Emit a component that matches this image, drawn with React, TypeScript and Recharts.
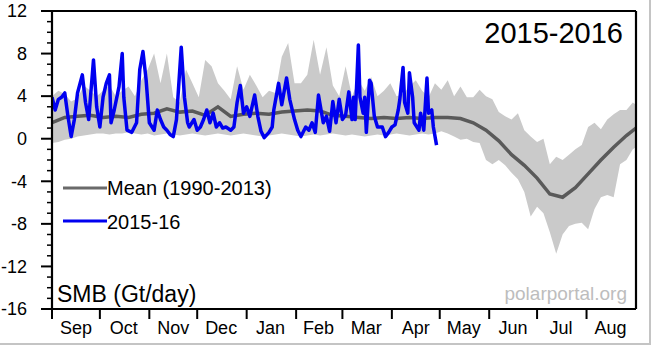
import React from 'react';
import { ComposedChart, Area, Line, XAxis, YAxis } from 'recharts';

const monthLabels = ['Sep', 'Oct', 'Nov', 'Dec', 'Jan', 'Feb', 'Mar', 'Apr', 'May', 'Jun', 'Jul', 'Aug'];
const monthStarts = [0, 30, 61, 91, 122, 153, 182, 213, 243, 274, 304, 335, 366];
const monthMids = [15, 45, 76, 106, 137, 167, 197, 228, 258, 289, 319, 350];
const yMajorTicks = [-16, -12, -8, -4, 0, 4, 8, 12];
const yMinorTicks = [-16, -15, -14, -13, -12, -11, -10, -9, -8, -7, -6, -5, -4, -3, -2, -1, 0, 1, 2, 3, 4, 5, 6, 7, 8, 9, 10, 11, 12];

const climDays = [0, 4, 8, 12, 16, 20, 24, 28, 32, 36, 40, 44, 48, 52, 56, 60, 64, 68, 72, 76, 80, 84, 88, 92, 96, 100, 104, 108, 112, 116, 120, 124, 128, 132, 136, 140, 144, 148, 152, 156, 160, 164, 168, 172, 176, 180, 184, 188, 192, 196, 200, 204, 208, 212, 216, 220, 224, 228, 232, 236, 240, 244, 248, 252, 256, 260, 264, 268, 272, 276, 280, 284, 288, 292, 296, 300, 304, 308, 312, 316, 320, 324, 328, 332, 336, 340, 344, 348, 352, 356, 360, 364, 366];
const bandHigh = [4.0, 4.5, 4.2, 3.5, 3.8, 5.0, 4.5, 4.0, 4.5, 5.0, 4.0, 4.5, 4.9, 4.0, 5.5, 6.5, 8.0, 5.2, 8.0, 3.9, 3.4, 6.5, 5.2, 3.9, 7.4, 6.8, 5.2, 4.5, 3.7, 6.8, 4.6, 6.0, 5.0, 3.9, 4.5, 4.3, 7.7, 9.0, 5.2, 5.2, 6.0, 9.3, 6.0, 8.6, 5.0, 4.0, 6.8, 4.0, 5.5, 4.5, 5.8, 4.0, 4.5, 5.2, 4.0, 4.2, 4.9, 5.5, 4.5, 3.9, 5.2, 4.6, 5.5, 4.0, 4.9, 3.9, 3.9, 4.6, 4.0, 3.7, 2.5, 2.1, 1.8, 2.4, 0.8, 0.2, -0.3, 0.0, -2.4, -1.7, -2.0, -1.5, -1.0, -0.6, 1.1, 1.5, 0.9, 1.8, 2.3, 2.7, 2.7, 3.4, 3.2];
const bandLow = [-0.4, -0.3, -0.1, 0.0, 0.2, 0.3, 0.4, 0.5, 0.5, 0.4, 0.5, 0.5, 0.6, 0.5, 0.4, 0.5, 0.3, 0.4, 0.5, 0.4, 0.3, 0.4, 0.5, 0.4, 0.3, 0.4, 0.5, 0.4, 0.3, 0.4, 0.5, 0.4, 0.3, 0.2, 0.3, 0.4, 0.5, 0.4, 0.3, 0.2, 0.3, 0.4, 0.3, 0.4, 0.5, 0.4, 0.3, 0.4, 0.3, 0.2, 0.3, 0.4, 0.3, 0.4, 0.5, 0.4, 0.3, 0.4, 0.5, 0.4, 0.5, 0.7, 0.5, 0.2, -0.1, 0.0, -0.3, -0.4, -2.0, -2.4, -2.0, -2.5, -3.2, -3.8, -5.0, -7.3, -6.4, -7.0, -8.8, -10.8, -9.0, -8.2, -8.0, -7.9, -8.5, -6.6, -5.5, -5.3, -5.5, -2.4, -2.0, -1.0, -0.8];

const meanDays = [0, 8, 16, 24, 32, 40, 48, 56, 64, 72, 80, 88, 96, 104, 112, 120, 128, 136, 144, 152, 160, 168, 176, 184, 192, 200, 208, 216, 224, 232, 240, 248, 256, 264, 272, 280, 288, 296, 304, 312, 320, 328, 336, 344, 352, 360, 366];
const meanSmb = [1.5, 2.0, 2.1, 2.2, 2.0, 2.1, 2.0, 2.3, 2.4, 2.8, 2.5, 2.6, 2.2, 3.0, 2.1, 2.3, 2.4, 2.3, 2.5, 2.6, 2.7, 2.6, 2.2, 2.1, 2.0, 1.9, 2.0, 1.9, 2.0, 1.9, 2.0, 2.0, 1.9, 1.5, 0.8, -0.2, -1.5, -2.5, -3.7, -5.2, -5.5, -4.6, -3.3, -2.0, -0.8, 0.3, 1.0];

const obsDays = [0, 2, 4, 6, 8, 10, 12, 14, 16, 19, 21, 23, 26, 28, 30, 32, 34, 36, 37, 39, 42, 44, 45, 47, 50, 53, 55, 57, 59, 61, 64, 66, 68, 70, 72, 74, 76, 78, 81, 83, 85, 86, 89, 91, 93, 95, 97, 99, 101, 103, 105, 107, 109, 112, 114, 116, 118, 120, 122, 124, 127, 129, 131, 133, 136, 138, 139, 142, 144, 147, 149, 152, 154, 156, 159, 161, 163, 165, 167, 170, 172, 174, 176, 178, 180, 182, 184, 186, 188, 189, 190, 192, 193, 195, 196, 197, 199, 200, 202, 204, 207, 209, 211, 213, 215, 217, 218, 220, 221, 223, 224, 226, 227, 230, 231, 233, 235, 236, 238, 239, 241];
const obsSmb = [3.9, 2.7, 3.7, 3.9, 4.3, 2.1, 0.2, 1.8, 4.3, 6.0, 3.4, 1.8, 7.4, 3.0, 1.1, 3.9, 5.2, 6.0, 1.5, 2.7, 4.9, 8.0, 3.9, 0.8, 0.6, 1.5, 6.5, 8.2, 5.5, 1.5, 0.8, 2.7, 1.8, 1.1, 0.8, 0.4, 0.2, 1.8, 8.6, 3.9, 1.5, 1.1, 1.8, 0.8, 1.1, 1.8, 2.7, 1.5, 2.4, 1.1, 1.5, 1.0, 1.1, 0.8, 1.1, 3.4, 5.0, 2.4, 3.0, 2.1, 4.1, 2.1, 0.7, 0.1, 0.6, 1.1, 2.7, 5.2, 3.2, 5.7, 3.7, 1.8, 0.8, 0.2, 1.1, 0.8, 1.5, 0.6, 4.1, 1.5, 2.1, 0.7, 3.5, 1.5, 3.7, 1.8, 2.2, 4.4, 1.8, 3.9, 1.8, 8.8, 3.9, 2.4, 3.9, 0.6, 5.5, 5.2, 2.1, 1.1, 1.1, 0.2, 0.6, 1.1, 1.3, 2.7, 3.7, 6.7, 3.4, 2.4, 6.2, 3.9, 1.5, 0.8, 2.4, 0.8, 5.7, 2.4, 2.7, 1.1, -0.6];

const bandData = climDays.map((d, i) => ({ day: d, range: [bandLow[i], bandHigh[i]] }));
const meanData = meanDays.map((d, i) => ({ day: d, mean: meanSmb[i] }));
const obsData = obsDays.map((d, i) => ({ day: d, obs: obsSmb[i] }));

const bottomTicks = [...monthStarts.slice(0, 12), ...monthMids].sort((a, b) => a - b);

const FONT = '"Liberation Sans", Arial, Helvetica, sans-serif';
const AXIS = { stroke: '#000', strokeWidth: 2.2 };

const LeftTick = (props: any) => {
  const { x, y, payload } = props;
  const major = yMajorTicks.includes(payload.value);
  return (
    <g>
      <line x1={x} x2={x - (major ? 11 : 5)} y1={y} y2={y} stroke="#000" strokeWidth={major ? 2 : 1.5} />
      {major && (
        <text x={x - 25} y={y} dy="0.35em" textAnchor="end" fontSize={18} fontFamily={FONT} fill="#000">{payload.value}</text>
      )}
    </g>
  );
};

const RightTick = (props: any) => {
  const { x, y, payload } = props;
  const major = yMajorTicks.includes(payload.value);
  return <line x1={x} x2={x + (major ? 12 : 6)} y1={y} y2={y} stroke="#000" strokeWidth={major ? 2 : 1.5} />;
};

const BottomTick = (props: any) => {
  const { x, y, payload } = props;
  const i = monthMids.indexOf(payload.value);
  if (i >= 0) {
    return (
      <text x={x} y={y + 25} textAnchor="middle" fontSize={18} fontFamily={FONT} fill="#000">{monthLabels[i]}</text>
    );
  }
  return <line x1={x} x2={x} y1={y} y2={y + 10} stroke="#000" strokeWidth={2} />;
};

const TopTick = (props: any) => {
  const { x, y } = props;
  return <line x1={x} x2={x} y1={y} y2={y - 11} stroke="#000" strokeWidth={2} />;
};

export default function App() {
  return (
    <div style={{ position: 'absolute', left: 0, top: 0, width: 660, height: 356, background: '#fff', fontFamily: FONT }}>
      <ComposedChart width={660} height={356} margin={{ top: 0, right: 0, bottom: 0, left: 0 }}>
        <XAxis xAxisId="b" dataKey="day" type="number" domain={[0, 366]} ticks={bottomTicks} height={47}
          tick={<BottomTick />} tickLine={false} tickSize={0} tickMargin={0} axisLine={AXIS} allowDataOverflow interval={0} />
        <XAxis xAxisId="t" orientation="top" dataKey="day" type="number" domain={[0, 366]} ticks={monthStarts.slice(1, 12)} height={11}
          tick={<TopTick />} tickLine={false} tickSize={0} tickMargin={0} axisLine={AXIS} interval={0} />
        <YAxis yAxisId="l" type="number" domain={[-16, 12]} ticks={yMinorTicks} width={52} interval={0}
          tick={<LeftTick />} tickLine={false} tickSize={0} tickMargin={0} axisLine={AXIS} />
        <YAxis yAxisId="r" orientation="right" type="number" domain={[-16, 12]} ticks={yMinorTicks} width={24} interval={0}
          tick={<RightTick />} tickLine={false} tickSize={0} tickMargin={0} axisLine={AXIS} />
        <Area data={bandData} xAxisId="b" yAxisId="l" dataKey="range" type="linear" stroke="none" fill="#cacaca" fillOpacity={1} isAnimationActive={false} />
        <Line data={meanData} xAxisId="b" yAxisId="l" dataKey="mean" type="linear" stroke="#5a5a5a" strokeWidth={3.5} dot={false} isAnimationActive={false} />
        <Line data={obsData} xAxisId="b" yAxisId="l" dataKey="obs" type="linear" stroke="#0000f0" strokeWidth={3.5} dot={false} isAnimationActive={false} strokeLinejoin="round" />
      </ComposedChart>
      <svg width={660} height={356} style={{ position: 'absolute', left: 0, top: 0, pointerEvents: 'none' }} fontFamily={FONT}>
        <text x={623} y={43} fontSize={29} textAnchor="end" fill="#000">2015-2016</text>
        <line x1={63} x2={107} y1={188} y2={188} stroke="#6a6a6a" strokeWidth={3} />
        <text x={107} y={195} fontSize={20} fill="#000">Mean (1990-2013)</text>
        <line x1={63} x2={107} y1={221} y2={221} stroke="#0000f0" strokeWidth={3} />
        <text x={107} y={229} fontSize={20} fill="#000">2015-16</text>
        <text x={57} y={302} fontSize={23} fill="#000">SMB (Gt/day)</text>
        <text x={627} y={300} fontSize={19} textAnchor="end" fill="#bdbdbd">polarportal.org</text>
        <line x1={650} x2={650} y1={0} y2={344} stroke="#c4c4c4" strokeWidth={2} />
        <line x1={0} x2={651} y1={344} y2={344} stroke="#c4c4c4" strokeWidth={2} />
      </svg>
    </div>
  );
}
